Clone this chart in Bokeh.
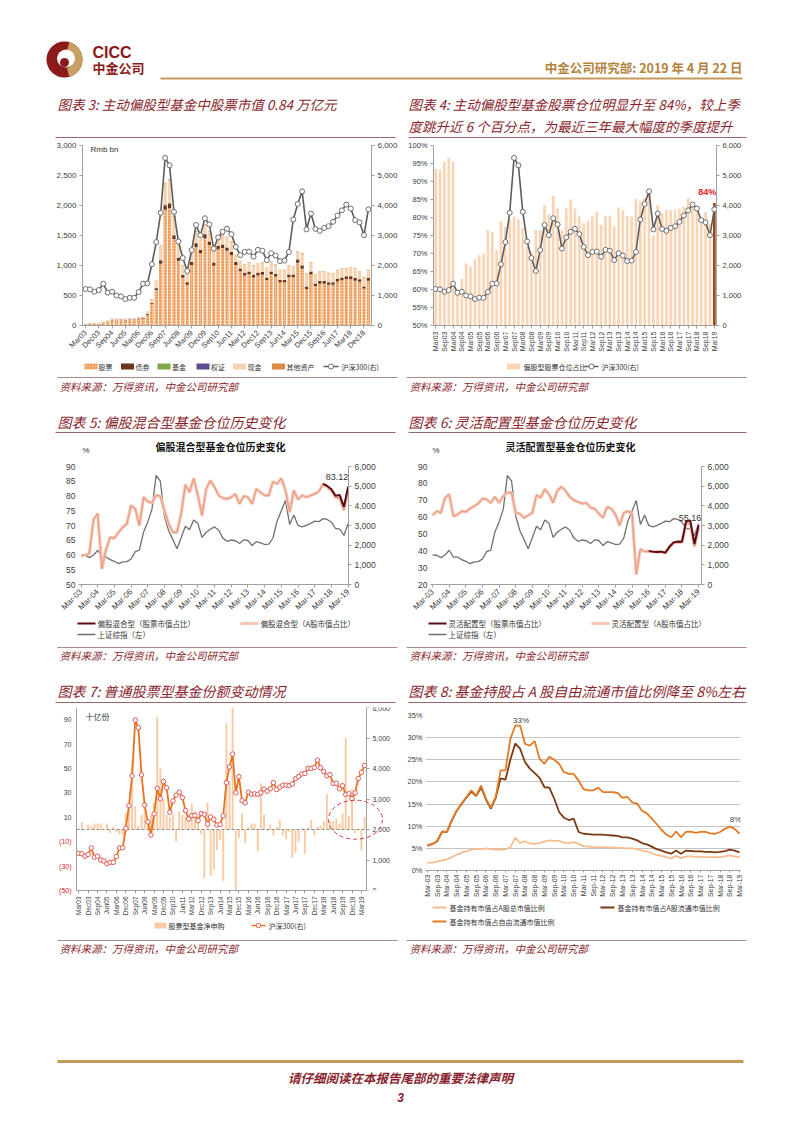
import math
from bokeh.plotting import figure
from bokeh.models import (Range1d, LinearAxis, FixedTicker, NumeralTickFormatter, ColumnDataSource, Spacer)
from bokeh.layouts import column, row
from bokeh.embed import file_html
from bokeh.resources import INLINE
from bokeh.core.properties import value

CN = "Noto Sans CJK SC"
EN = "Liberation Sans"
RED = "#8A1F2E"
GOLD = "#C49A5C"
RULE = "#A88A8A"

# ---------------- categories ----------------
QTR = [m + str(y)[2:] for y in range(2003, 2020) for m in ("Mar", "Jun", "Sep", "Dec")][:65]
QTR_DASH = [m + "-" + str(y)[2:] for y in range(2003, 2020) for m in ("Mar", "Jun", "Sep", "Dec")][:65]
MONTHS = [m + str(y)[2:] for y in range(2016, 2020)
          for m in ("Jan", "Feb", "Mar", "Apr", "May", "Jun", "Jul", "Aug", "Sep", "Oct", "Nov", "Dec")][:40]
CAT7 = QTR[:52] + MONTHS

# ---------------- data ----------------
csi300_q = [1215, 1204, 1126, 1182, 1394, 1093, 1126, 1000, 970, 881,
            926, 923, 1115, 1394, 1404, 2041, 2781, 3758, 5588, 5338,
            3790, 2799, 2250, 1817, 2513, 3350, 3010, 3575, 3368, 2564,
            2936, 3128, 3223, 3044, 2621, 2346, 2455, 2462, 2294, 2523,
            2495, 2178, 2409, 2331, 2146, 2165, 2450, 3533, 4051, 4473,
            3203, 3731, 3218, 3154, 3253, 3310, 3456, 3666, 3837, 4031,
            3899, 3511, 3438, 3011, 3872]
csi300_m = [2946, 2877, 3218, 3156, 3170, 3154, 3204, 3327, 3253, 3336, 3538, 3310,
            3387, 3452, 3456, 3439, 3493, 3666, 3737, 3822, 3837, 4007, 4006, 4031,
            4275, 4023, 3899, 3757, 3802, 3511, 3517, 3335, 3438, 3153, 3173, 3011,
            3202, 3670, 3872, 4100]
shci_q = [1510, 1487, 1367, 1497, 1742, 1399, 1396, 1266, 1181, 1061,
          1155, 1161, 1299, 1672, 1752, 2675, 3183, 3821, 5552, 5262,
          3473, 2736, 2293, 1821, 2374, 2959, 2779, 3277, 3110, 2398,
          2656, 2808, 2928, 2762, 2359, 2199, 2263, 2225, 2086, 2269,
          2237, 1979, 2175, 2116, 2033, 2048, 2364, 3235, 3748, 4277,
          3053, 3539, 3004, 2930, 3005, 3104, 3223, 3192, 3349, 3307,
          3169, 2847, 2821, 2494, 3091]

# chart 3 (Rmb bn)
stock3 = [18, 26, 29, 32, 46, 63, 89, 94, 92, 89,
          92, 94, 105, 117, 180, 362, 590, 1030, 1930, 1955,
          1440, 1080, 795, 680, 1010, 1310, 1205, 1455, 1340, 995,
          1270, 1290, 1245, 1175, 1010, 905, 835, 855, 800, 835,
          845, 760, 855, 815, 720, 720, 805, 805, 1045, 945,
          610, 850, 660, 695, 695, 680, 680, 735, 755, 775,
          775, 745, 730, 615, 745]
bond3 = [2, 2, 3, 3, 4, 5, 6, 6, 6, 6,
         6, 6, 7, 8, 10, 18, 30, 50, 70, 75,
         60, 50, 45, 40, 50, 60, 55, 65, 60, 55,
         60, 60, 55, 55, 50, 45, 45, 45, 40, 45,
         45, 40, 45, 45, 40, 40, 45, 45, 55, 55,
         40, 50, 40, 45, 45, 40, 40, 45, 45, 45,
         45, 45, 40, 35, 45]
fund3 = [0, 0, 0, 0, 0, 0, 1, 1, 1, 1,
         1, 1, 1, 1, 1, 2, 3, 5, 6, 6,
         4, 3, 2, 2, 2, 3, 3, 3, 3, 2,
         2, 2, 2, 2, 2, 2, 2, 2, 2, 2,
         2, 2, 2, 2, 2, 2, 2, 2, 3, 3,
         2, 2, 2, 2, 2, 2, 2, 2, 2, 2,
         2, 2, 2, 2, 2]
warrant3 = [0, 0, 0, 0, 0, 0, 0, 0, 0, 0,
            1, 2, 2, 2, 3, 3, 5, 8, 10, 6,
            3, 1, 0, 0, 0, 0, 0, 0, 0, 0,
            0, 0, 0, 0, 0, 0, 0, 0, 0, 0,
            0, 0, 0, 0, 0, 0, 0, 0, 0, 0,
            0, 0, 0, 0, 0, 0, 0, 0, 0, 0,
            0, 0, 0, 0, 0]
cash3 = [5, 7, 8, 10, 12, 12, 17, 18, 17, 17,
         18, 18, 18, 25, 35, 45, 110, 230, 350, 380,
         300, 220, 160, 130, 140, 190, 160, 160, 160, 180,
         130, 150, 170, 170, 120, 110, 130, 140, 160, 150,
         150, 160, 160, 150, 160, 160, 140, 130, 130, 190,
         210, 150, 140, 150, 150, 150, 140, 140, 140, 130,
         140, 150, 120, 150, 130]
other3 = [1, 1, 1, 1, 2, 2, 2, 2, 2, 2,
          2, 2, 3, 3, 4, 6, 8, 12, 15, 15,
          12, 10, 8, 7, 8, 10, 9, 10, 9, 8,
          9, 9, 8, 8, 7, 7, 7, 7, 6, 7,
          7, 6, 7, 7, 6, 6, 7, 7, 9, 10,
          8, 8, 7, 7, 7, 7, 7, 7, 7, 7,
          7, 7, 6, 6, 7]

# chart 4 (%)
pos4 = [93.5, 93.3, 95.5, 96.5, 95.5, 60.0, 63.0, 67.3, 66.3, 68.5,
        69.5, 70.0, 76.5, 76.0, 71.0, 79.0, 77.5, 79.5, 80.3, 79.5,
        77.0, 72.0, 70.5, 76.5, 76.5, 83.5, 81.0, 86.0, 82.5, 76.5,
        82.5, 85.0, 82.5, 80.5, 78.5, 79.0, 80.5, 81.5, 78.0, 80.5,
        80.5, 77.5, 82.8, 82.0, 80.5, 80.2, 85.2, 84.5, 85.5, 86.5,
        75.0, 83.5, 81.2, 82.0, 82.0, 82.2, 82.5, 83.0, 85.5, 84.0,
        82.5, 79.0, 81.5, 78.2, 84.0]

# chart 5 (%)
mix_a5 = [59.8, 60.0, 60.4, 72.0, 74.0, 55.3, 61.9, 66.0, 65.7, 67.7,
          69.4, 70.6, 76.8, 75.7, 70.0, 79.6, 78.1, 77.7, 80.2, 80.0,
          75.0, 70.6, 67.7, 67.7, 74.0, 83.8, 81.3, 86.0, 80.2, 73.4,
          82.4, 85.3, 83.0, 80.2, 79.3, 79.0, 79.6, 80.7, 77.3, 80.0,
          79.6, 77.3, 82.4, 81.3, 80.2, 80.2, 84.9, 84.1, 86.0, 81.9,
          74.5, 81.9, 78.8, 80.2, 79.6, 80.2, 80.7, 81.5, 84.1, 83.0,
          81.8, 79.5, 79.2, 75.2, 81.8]
mix_stock5_from = 58
mix_stock5 = [84.1, 83.4, 82.3, 80.1, 80.3, 76.3, 83.12]

# chart 6 (%)
flex_a6 = [61.0, 63.5, 62.5, 71.5, 73.5, 60.5, 61.5, 63.5, 63.0, 65.0,
           66.5, 68.0, 71.0, 70.5, 68.5, 72.0, 68.5, 72.5, 74.5, 74.5,
           62.5, 62.0, 59.5, 61.0, 62.5, 73.0, 71.5, 76.5, 73.5, 68.5,
           75.5, 78.0, 75.5, 72.0, 70.0, 69.0, 68.0, 68.5, 65.5, 65.0,
           62.0, 59.5, 66.0, 65.0, 61.5, 55.0, 62.5, 63.5, 62.0, 26.0,
           41.0, 39.5, 39.8, 39.5, 39.3, 39.5, 38.8, 42.0, 44.5, 45.0,
           45.0, 56.5, 56.0, 42.5, 53.5]
flex_stock6_from = 52
flex_stock6 = [39.8, 39.5, 39.3, 39.5, 38.8, 42.5, 45.0, 45.5, 45.3, 57.5, 58.0, 44.0, 55.16]

# chart 7 (bn units)
netsub7 = [1, 6, 0, 4, 3, 5, 5, 5, 0, 5,
           -3, 2, -2, -4, -5, 14, 17, 55, 19, 3,
           12, 22, 5, 12, 22, 92, 50, 25, 12, 10,
           12, -10, 15, 12, 10, 12, 21, 15, 10, -4,
           -40, 22, -38, -33, -17, -9, -42, 87, 40, 100,
           -50, -7, 13, -11, 2, 5, 5, -18, 38, 12,
           -1, 4, -5, 2, 8, -5, -8, -2, -23, -19,
           -10, 1, -20, 1, 8, -5, 2, 3, 7, 29,
           7, 7, 9, 5, 13, 75, 11, 33, -3, -1,
           -17, 10]
csi7 = csi300_q[:52] + csi300_m
ticks7 = [-50, -30, -10, 10, 30, 50, 70, 90]

# chart 8 (%)
free8 = [5.6, 6.0, 6.6, 8.8, 8.7, 11.3, 13.5, 15.1, 16.6, 18.1,
         16.9, 19.2, 16.2, 14.2, 16.6, 22.6, 22.6, 29.7, 32.7, 32.7,
         28.6, 28.2, 29.2, 25.2, 24.1, 25.7, 25.0, 24.1, 22.2, 21.8,
         21.8, 20.3, 18.4, 18.1, 18.1, 18.7, 17.7, 17.7, 17.7, 17.5,
         16.4, 16.6, 15.4, 15.1, 13.5, 12.9, 11.7, 10.5, 9.2, 8.1,
         7.5, 8.8, 7.5, 8.7, 8.8, 8.5, 8.7, 8.7, 8.4, 8.3,
         8.7, 9.4, 9.9, 9.4, 8.3]
float8 = [5.6, 6.0, 6.6, 8.8, 8.7, 11.3, 13.5, 15.0, 16.5, 17.8,
          16.8, 18.8, 16.0, 14.0, 16.4, 20.8, 20.5, 25.0, 28.7, 27.5,
          24.5, 23.0, 22.0, 20.9, 18.8, 18.7, 16.2, 13.2, 11.9, 11.4,
          11.7, 8.7, 8.3, 8.2, 8.1, 8.1, 8.1, 8.0, 7.9, 7.8,
          7.5, 7.5, 7.2, 6.8, 6.2, 5.9, 5.4, 4.8, 4.5, 4.1,
          3.8, 4.5, 3.8, 4.5, 4.4, 4.3, 4.3, 4.2, 4.2, 4.1,
          4.2, 4.4, 4.7, 4.5, 4.1]
total8 = [1.7, 1.8, 2.0, 2.3, 2.5, 3.0, 3.6, 4.0, 4.4, 4.7,
          4.9, 4.8, 5.0, 4.8, 4.7, 4.7, 4.8, 5.2, 7.4, 6.2,
          6.6, 6.1, 6.0, 6.2, 6.5, 6.8, 6.7, 6.7, 6.3, 6.2,
          6.4, 6.0, 5.5, 5.4, 5.3, 5.3, 5.2, 5.2, 5.2, 5.1,
          5.1, 5.0, 5.0, 4.8, 4.5, 4.3, 3.9, 3.5, 3.3, 3.0,
          2.7, 3.3, 2.8, 3.2, 3.2, 3.1, 3.1, 3.0, 3.0, 3.0,
          3.0, 3.2, 3.4, 3.2, 3.0]

XS = list(range(65))
XS7 = list(range(len(CAT7)))


# ---------------- helpers ----------------
def band(w, h, x0, y0, yr=None):
    p = figure(width=w, height=h, x_range=Range1d(x0, x0 + w),
               y_range=Range1d(*(yr if yr else (y0 + h, y0))),
               output_backend="svg", toolbar_location=None, x_axis_type=None, y_axis_type=None,
               min_border=0, outline_line_color=None,
               background_fill_color="white", border_fill_color="white")
    p.frame_align = False
    return p


def txt(p, x, y, s, size="10px", color="#333333", font=CN, align="left", style="normal", baseline="middle"):
    p.text(x=[x], y=[y], text=[s], text_font=value(font), text_font_size=size, text_color=color,
           text_align=align, text_baseline=baseline, text_font_style=style)


def hline(p, x0, x1, y, color=RULE, width=1.0):
    p.line(x=[x0, x1], y=[y, y], line_color=color, line_width=width)


def chart(w, h, xr, yr, ml, mr, mt, mb):
    p = figure(width=w, height=h, x_range=Range1d(*xr), y_range=Range1d(*yr), output_backend="svg",
               toolbar_location=None, min_border_left=ml, min_border_right=mr, min_border_top=mt,
               min_border_bottom=mb, outline_line_color=None,
               background_fill_color="white", border_fill_color="white")
    p.xgrid.grid_line_color = None
    p.ygrid.grid_line_color = None
    return p


def style_axis(ax, size="8px", color="#404040", line=True, ticks=True):
    ax.axis_line_color = "#A0A0A0" if line else None
    ax.major_tick_line_color = "#A0A0A0" if ticks else None
    ax.minor_tick_line_color = None
    ax.major_tick_in = 0
    ax.major_tick_out = 3 if ticks else 0
    ax.major_label_text_font = EN
    ax.major_label_text_font_size = size
    ax.major_label_text_color = color
    ax.major_label_standoff = 3


def right_axis(p, size, fixed=None):
    ax = LinearAxis(y_range_name="r", ticker=FixedTicker(ticks=[0, 1000, 2000, 3000, 4000, 5000, 6000]),
                    formatter=NumeralTickFormatter(format="0,0"))
    if fixed is not None:
        ax.fixed_location = fixed
    style_axis(ax, size=size)
    p.add_layout(ax, "right")


# ---------------- chart 3 ----------------
c3 = chart(392, 220, (-0.7, 64.7), (0, 3000), 74, 27, 5, 35)
c3.extra_y_ranges = {"r": Range1d(0, 6000)}
src3 = ColumnDataSource(dict(x=XS, stock=stock3, bond=bond3, fund=fund3, warrant=warrant3,
                             cash=cash3, other=other3))
c3.vbar_stack(["stock", "bond", "fund", "warrant", "cash", "other"], x="x", width=0.74, source=src3,
              fill_color=["#F6BA88", "#6B3519", "#7EA64B", "#5E4C93", "#F7D3B2", "#D98C42"],
              hatch_pattern=[".", None, None, None, None, None],
              hatch_color="#DD620A", hatch_scale=3.0, hatch_weight=1.0, line_color=None)
c3.line(XS, csi300_q, y_range_name="r", line_color="#5C5C5C", line_width=1.6)
c3.scatter(XS, csi300_q, y_range_name="r", size=5, marker="circle", fill_color="white",
           line_color="#6E6E6E", line_width=1)
style_axis(c3.yaxis[0])
c3.yaxis[0].ticker = FixedTicker(ticks=[0, 500, 1000, 1500, 2000, 2500, 3000])
c3.yaxis[0].formatter = NumeralTickFormatter(format="0,0")
right_axis(c3, "8px")
style_axis(c3.xaxis[0], size="7.5px")
t3 = list(range(0, 64, 3))
c3.xaxis[0].ticker = FixedTicker(ticks=t3)
c3.xaxis[0].major_label_overrides = {i: QTR[i] for i in t3}
c3.xaxis[0].major_label_orientation = math.pi / 4
txt(c3, 1.1, 2930, "Rmb bn", size="8px", font=EN, color="#333333")

# ---------------- chart 4 ----------------
c4 = chart(394, 220, (-0.5, 64.5), (50, 100), 33, 78, 5, 33)
c4.extra_y_ranges = {"r": Range1d(0, 6000)}
c4.vbar(x=XS[:64], top=pos4[:64], bottom=50, width=0.62, fill_color="#FAD5B5", line_color=None)
c4.vbar(x=XS[64:], top=pos4[64:], bottom=50, width=0.62, fill_color="#9A4A1C", line_color=None)
c4.line(XS, csi300_q, y_range_name="r", line_color="#5C5C5C", line_width=1.6)
c4.scatter(XS, csi300_q, y_range_name="r", size=5, marker="circle", fill_color="white",
           line_color="#6E6E6E", line_width=1)
style_axis(c4.yaxis[0], size="7.5px")
t4y = list(range(50, 101, 5))
c4.yaxis[0].ticker = FixedTicker(ticks=t4y)
c4.yaxis[0].major_label_overrides = {v: f"{v}%" for v in t4y}
right_axis(c4, "7.5px")
style_axis(c4.xaxis[0], size="7px")
t4 = list(range(0, 65, 2))
c4.xaxis[0].ticker = FixedTicker(ticks=t4)
c4.xaxis[0].major_label_overrides = {i: QTR[i] for i in t4}
c4.xaxis[0].major_label_orientation = math.pi / 2
txt(c4, 64.45, 87.2, "84%", size="9px", font=EN, color="#E3202B", align="right", style="bold")

# ---------------- chart 5 ----------------
c5 = chart(392, 163, (-0.6, 64.1), (50, 90), 70, 52, 11, 34)
c5.extra_y_ranges = {"r": Range1d(0, 6000)}
c5.line(XS, shci_q, y_range_name="r", line_color="#707070", line_width=1.3)
c5.line(XS, mix_a5, line_color="#F6C6B2", line_width=3.2)
c5.line(XS, mix_a5, line_color="#E39079", line_width=0.9)
c5.line(list(range(mix_stock5_from, 65)), mix_stock5, line_color="#5A0C16", line_width=2)
style_axis(c5.yaxis[0], size="8.5px", line=False, ticks=False)
c5.yaxis[0].ticker = FixedTicker(ticks=list(range(50, 91, 5)))
right_axis(c5, "8.5px")
style_axis(c5.xaxis[0], size="8px")
t5 = list(range(0, 65, 4))
c5.xaxis[0].ticker = FixedTicker(ticks=t5)
c5.xaxis[0].major_label_overrides = {i: QTR_DASH[i] for i in t5}
c5.xaxis[0].major_label_orientation = math.pi / 4
txt(c5, 64.05, 86.3, "83.12", size="9px", font=EN, color="#333333", align="right")

# ---------------- chart 6 ----------------
c6 = chart(394, 163, (-0.5, 64.7), (20, 90), 30, 93, 11, 34)
c6.extra_y_ranges = {"r": Range1d(0, 6000)}
c6.line(XS, shci_q, y_range_name="r", line_color="#707070", line_width=1.3)
c6.line(XS, flex_a6, line_color="#F6C6B2", line_width=3.2)
c6.line(XS, flex_a6, line_color="#E39079", line_width=0.9)
c6.line(list(range(flex_stock6_from, 65)), flex_stock6, line_color="#5A0C16", line_width=2)
style_axis(c6.yaxis[0], size="8.5px", line=False, ticks=False)
c6.yaxis[0].ticker = FixedTicker(ticks=list(range(20, 91, 10)))
right_axis(c6, "8.5px")
style_axis(c6.xaxis[0], size="8px")
c6.xaxis[0].ticker = FixedTicker(ticks=t5)
c6.xaxis[0].major_label_overrides = {i: QTR_DASH[i] for i in t5}
c6.xaxis[0].major_label_orientation = math.pi / 4
txt(c6, 64.65, 59.3, "55.16", size="9px", font=EN, color="#333333", align="right")

# ---------------- chart 7 ----------------
C7_TOP, C7_BOT, C7_H = 2, 30, 215
X7_END = 91.6
c7 = chart(326, C7_H, (-0.7, 101.8), (-50, 100), 2, 2, C7_TOP, C7_BOT)
c7.extra_y_ranges = {"r": Range1d(0, 6000)}
c7.vbar(x=XS7, top=netsub7, bottom=0, width=0.62, fill_color="#F8CBA4", line_color=None)
c7.line(x=[-0.7, X7_END], y=[0, 0], line_color="#8C8C8C", line_dash="3 2", line_width=1)
c7.line(XS7, csi7, y_range_name="r", line_color="#E8731E", line_width=1.8)
c7.scatter(XS7, csi7, y_range_name="r", size=4.5, marker="circle", fill_color="white",
           line_color="#E05A55", line_width=1)
c7.ellipse(x=[88.1], y=[8], width=17.2, height=32, fill_color=None, line_color="#D9363E",
           line_dash="4 3", line_width=1)
style_axis(c7.yaxis[0], size="7px", ticks=False)
c7.yaxis[0].ticker = FixedTicker(ticks=ticks7)
c7.yaxis[0].major_label_overrides = {v: "" for v in ticks7}
c7.yaxis[0].major_label_standoff = 0
right_axis(c7, "7px", fixed=X7_END)
style_axis(c7.xaxis[0], size="6.5px")
c7.xaxis[0].bounds = (-0.7, X7_END)
t7 = list(range(0, 52, 3)) + list(range(54, 91, 3))
c7.xaxis[0].ticker = FixedTicker(ticks=t7)
c7.xaxis[0].major_label_overrides = {i: CAT7[i] for i in t7}
c7.xaxis[0].major_label_orientation = math.pi / 2
txt(c7, 2.2, 92.6, "十亿份", size="8px", color="#333333")

upp = 150 / (C7_H - C7_TOP - C7_BOT)
lab7 = band(66, C7_H, 8, 0, yr=(-50 - C7_BOT * upp, 100 + C7_TOP * upp))
for v in ticks7:
    txt(lab7, 71, v, f"({-v})" if v < 0 else str(v), size="7px", font=EN,
        color="#D8262E" if v < 0 else "#404040", align="right")

# ---------------- chart 8 ----------------
c8 = chart(394, 195, (-0.4, 64.2), (0, 35), 25, 54, 10, 30)
c8.ygrid.grid_line_color = "#C4C4C4"
c8.ygrid.ticker = FixedTicker(ticks=list(range(0, 36, 5)))
c8.line(XS, total8, line_color="#F7BC8E", line_width=1.8)
c8.line(XS, float8, line_color="#7B3A12", line_width=1.8)
c8.line(XS, free8, line_color="#E47A25", line_width=1.8)
style_axis(c8.yaxis[0], size="7.5px", line=False, ticks=False)
t8y = list(range(0, 36, 5))
c8.yaxis[0].ticker = FixedTicker(ticks=t8y)
c8.yaxis[0].major_label_overrides = {v: f"{v}%" for v in t8y}
style_axis(c8.xaxis[0], size="7px")
c8.xaxis[0].major_tick_out = 2
c8.xaxis[0].major_label_standoff = 2
c8.xaxis[0].ticker = FixedTicker(ticks=t4)
c8.xaxis[0].major_label_overrides = {i: QTR_DASH[i] for i in t4}
c8.xaxis[0].major_label_orientation = math.pi / 2
txt(c8, 19.2, 33.9, "33%", size="8px", font=EN, color="#444444", align="center")
txt(c8, 63.2, 11.5, "8%", size="8px", font=EN, color="#444444", align="center")

# ---------------- header band ----------------
hd = band(786, 132, 8, 8)
hd.wedge(x=[64], y=[59], radius=18, start_angle=0, end_angle=2 * math.pi, fill_color="#8B1A1A", line_color=None)
hd.annular_wedge(x=[64], y=[59], inner_radius=9, outer_radius=18, start_angle=-1.3, end_angle=1.3,
                 fill_color="#C9A063", line_color=None)
hd.circle(x=[65.5], y=[58], radius=9, fill_color="white", line_color=None)
hd.circle(x=[64], y=[62], radius=4.5, fill_color="#8B1A1A", line_color=None)
txt(hd, 92, 52, "CICC", size="16px", font=EN, color="#8B1A1A", style="bold")
txt(hd, 92, 67, "中金公司", size="13px", color="#8B1A1A", style="bold")
txt(hd, 742, 67, "中金公司研究部: 2019 年 4 月 22 日", size="12.5px", color="#B4823C", align="right", style="bold")
hline(hd, 160, 742, 78, color=GOLD, width=2)
txt(hd, 57, 103, "图表 3: 主动偏股型基金中股票市值 0.84 万亿元", size="13.5px", color=RED, style="italic")
txt(hd, 408, 103, "图表 4: 主动偏股型基金股票仓位明显升至 84%，较上季", size="13.5px", color=RED, style="italic")
txt(hd, 408, 125, "度跳升近 6 个百分点，为最近三年最大幅度的季度提升", size="13.5px", color=RED, style="italic")
hline(hd, 55, 395, 137, color="#96676B")
hline(hd, 408, 746, 137, color="#96676B")

# ---------------- band C ----------------
bc = band(786, 95, 8, 360)
LY = 366
bc.rect(x=[90.5], y=[LY], width=13, height=6, fill_color="#F6BA88", hatch_pattern=".",
        hatch_color="#DD620A", hatch_scale=3.0, line_color=None)
txt(bc, 98, LY, "股票", size="7px")
legend3 = [(127, "#6B3519", "债券"), (163.5, "#7EA64B", "基金"), (202.5, "#5E4C93", "权证"),
           (239, "#F7D3B2", "现金"), (278, "#D98C42", "其他资产")]
for cx, col, lab in legend3:
    bc.rect(x=[cx], y=[LY], width=13, height=6, fill_color=col, line_color=None)
    txt(bc, cx + 8, LY, lab, size="7px")
bc.line(x=[323, 338], y=[LY, LY], line_color="#5C5C5C", line_width=1.5)
bc.scatter(x=[330.5], y=[LY], size=5, marker="circle", fill_color="white", line_color="#6E6E6E")
txt(bc, 341, LY, "沪深300(右)", size="7px")
bc.rect(x=[513], y=[LY], width=13, height=6, fill_color="#FAD5B5", line_color=None)
txt(bc, 523, LY, "偏股型股票仓位占比", size="7px")
bc.line(x=[584, 598], y=[LY, LY], line_color="#5C5C5C", line_width=1.5)
bc.scatter(x=[591], y=[LY], size=5, marker="circle", fill_color="white", line_color="#6E6E6E")
txt(bc, 601, LY, "沪深300(右)", size="7px")
hline(bc, 57, 397, 377)
hline(bc, 406, 746, 377)
txt(bc, 59, 386, "资料来源：万得资讯，中金公司研究部", size="10.5px", color=RED, style="italic")
txt(bc, 409, 386, "资料来源：万得资讯，中金公司研究部", size="10.5px", color=RED, style="italic")
txt(bc, 57, 421, "图表 5: 偏股混合型基金仓位历史变化", size="14px", color=RED, style="italic")
txt(bc, 408, 421, "图表 6: 灵活配置型基金仓位历史变化", size="14px", color=RED, style="italic")
hline(bc, 55, 395, 432, color="#96676B")
hline(bc, 408, 746, 432, color="#96676B")
txt(bc, 220, 446, "偏股混合型基金仓位历史变化", size="10px", color="#111111", align="center", style="bold")
txt(bc, 570, 446, "灵活配置型基金仓位历史变化", size="10px", color="#111111", align="center", style="bold")
txt(bc, 82, 450, "%", size="8px", font=EN, color="#333333")
txt(bc, 432, 450, "%", size="8px", font=EN, color="#333333")

# ---------------- band E ----------------
be = band(786, 87, 8, 618)
for ox, name in ((0, "偏股混合型"), (351, "灵活配置型")):
    be.line(x=[77 + ox, 95 + ox], y=[623, 623], line_color="#5A0C16", line_width=2)
    txt(be, 97 + ox, 623, name + "（股票市值占比）", size="7.5px")
    be.line(x=[240 + ox, 258 + ox], y=[623, 623], line_color="#F6C6B2", line_width=3)
    txt(be, 260 + ox, 623, name + "（A股市值占比）", size="7.5px")
    be.line(x=[77 + ox, 95 + ox], y=[634, 634], line_color="#707070", line_width=1.3)
    txt(be, 97 + ox, 634, "上证综指（左）", size="7.5px")
hline(be, 57, 397, 647)
hline(be, 406, 746, 647)
txt(be, 59, 655, "资料来源：万得资讯，中金公司研究部", size="10.5px", color=RED, style="italic")
txt(be, 409, 655, "资料来源：万得资讯，中金公司研究部", size="10.5px", color=RED, style="italic")
txt(be, 57, 690, "图表 7: 普通股票型基金份额变动情况", size="14px", color=RED, style="italic")
txt(be, 408, 690, "图表 8: 基金持股占 A 股自由流通市值比例降至 8%左右", size="14px", color=RED, style="italic")
hline(be, 55, 395, 702, color="#96676B")
hline(be, 408, 746, 702, color="#96676B")

# ---------------- legend bands under charts 7/8 ----------------
bl7 = band(392, 15, 8, 920)
bl7.rect(x=[160], y=[925], width=12, height=6, fill_color="#F8CBA4", line_color=None)
txt(bl7, 168, 925, "股票型基金净申购", size="7px")
bl7.line(x=[251, 265], y=[925, 925], line_color="#E8731E", line_width=1.6)
bl7.scatter(x=[258], y=[925], size=4.5, marker="circle", fill_color="white", line_color="#E05A55")
txt(bl7, 268, 925, "沪深300(右)", size="7px")

br8 = band(394, 35, 400, 900)
br8.line(x=[432, 446], y=[907, 907], line_color="#F7BC8E", line_width=1.8)
txt(br8, 449, 907, "基金持有市值占A股总市值比例", size="7px")
br8.line(x=[600, 614], y=[907, 907], line_color="#7B3A12", line_width=1.8)
txt(br8, 617, 907, "基金持有市值占A股流通市值比例", size="7px")
br8.line(x=[432, 446], y=[921, 921], line_color="#E47A25", line_width=1.8)
txt(br8, 449, 921, "基金持有市值占自由流通市值比例", size="7px")

# ---------------- footer band ----------------
bg = band(786, 175, 8, 935)
hline(bg, 57, 397, 940)
hline(bg, 406, 746, 940)
txt(bg, 59, 948, "资料来源：万得资讯，中金公司研究部", size="10.5px", color=RED, style="italic")
txt(bg, 409, 948, "资料来源：万得资讯，中金公司研究部", size="10.5px", color=RED, style="italic")
hline(bg, 57, 743, 1061, color=GOLD, width=3)
txt(bg, 400, 1077, "请仔细阅读在本报告尾部的重要法律声明", size="12.5px", color=RED, align="center", style="bold italic")
txt(bg, 400, 1097, "3", size="12px", font=EN, color=RED, align="center", style="bold italic")

page = column(hd, row(c3, c4), bc, row(c5, c6), be,
              row(column(row(lab7, c7), bl7), column(c8, br8)), bg)
root = column(Spacer(width=794, height=8), row(Spacer(width=8, height=10), page))

open("out.html", "w").write(file_html(root, INLINE))
